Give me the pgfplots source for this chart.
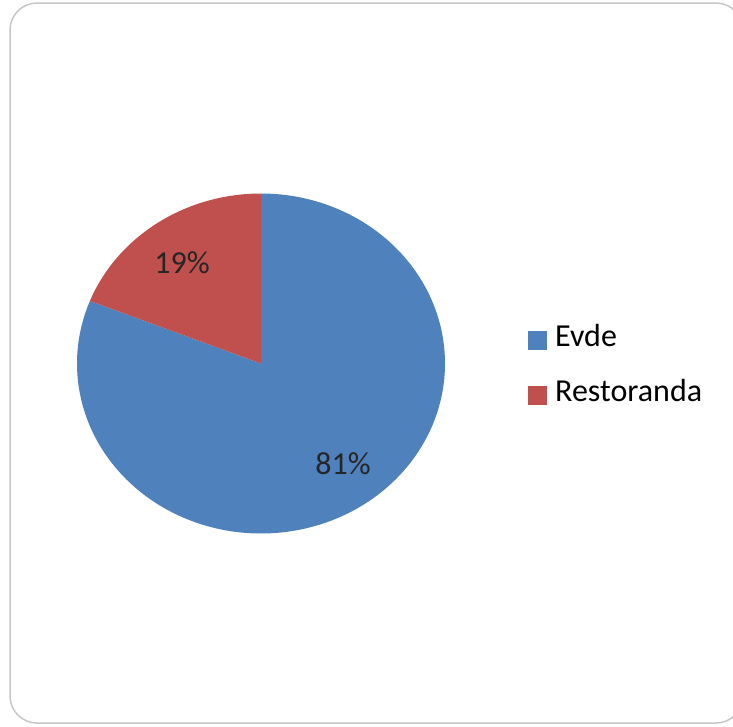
\documentclass[border=0pt]{standalone}
\usepackage{fontspec}
\setmainfont{Carlito}
\usepackage{pgfplots}
\pgfplotsset{compat=1.18}
\definecolor{pieblue}{HTML}{4F81BD}
\definecolor{piered}{HTML}{C0504D}
\newcommand\vEvde{81}
\newcommand\vRest{19}
\begin{document}
\begin{tikzpicture}
\begin{axis}[
  scale only axis, width=733pt, height=726pt,
  xmin=0, xmax=733, ymin=0, ymax=726, y dir=reverse,
  axis lines=none, clip=true,
  legend style={draw=none, fill=none, at={(axis cs:528,324)}, anchor=north west,
    inner sep=0pt, font=\fontsize{32}{38}\selectfont, row sep=29pt,
    nodes={inner sep=0pt, text depth=0pt}},
  legend cell align=left,
  legend image code/.code={\fill[#1] (0pt,-15pt) rectangle (19pt,4pt);},
]
\path (axis cs:0,0) rectangle (axis cs:733,726);
\draw[overlay, draw=black!22, line width=1.5pt, rounded corners=27pt, fill=white] (axis cs:10,3) rectangle (axis cs:743,723);
\addplot[fill=pieblue, draw=none, domain={90+3.6*\vRest}:450, samples=240]
  ({261+184*cos(x)},{363.5-170*sin(x)}) -- (axis cs:261,363.5) -- cycle;
\addlegendentry{\hspace{8pt}Evde}
\addplot[fill=piered, draw=none, domain=90:{90+3.6*\vRest}, samples=60]
  ({261+184*cos(x)},{363.5-170*sin(x)}) -- (axis cs:261,363.5) -- cycle;
\addlegendentry{\hspace{8pt}Restoranda}
\node[font=\fontsize{32}{38}\selectfont, text=black!85] at (axis cs:182,263) {19\%};
\node[font=\fontsize{32}{38}\selectfont, text=black!85] at (axis cs:343,464) {81\%};
\end{axis}
\end{tikzpicture}
\end{document}
